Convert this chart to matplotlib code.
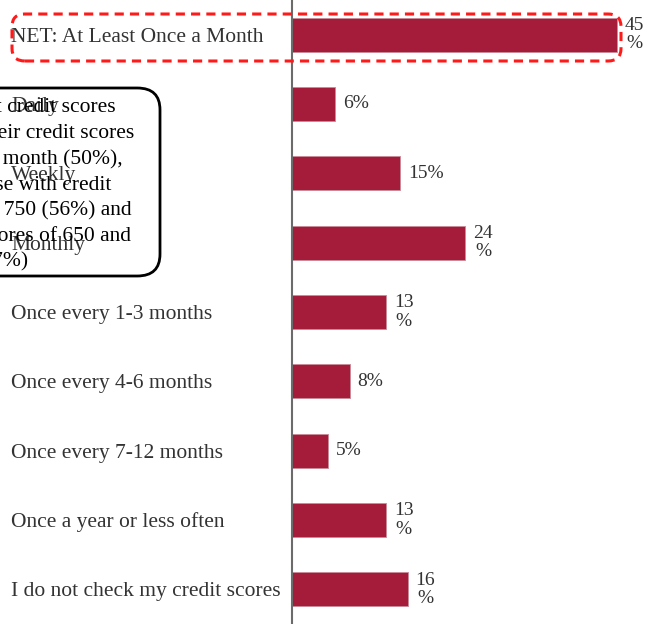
import matplotlib.pyplot as plt
from matplotlib.patches import FancyBboxPatch

# frequency of checking credit scores
categories = [
    "NET: At Least Once a Month",
    "Daily",
    "Weekly",
    "Monthly",
    "Once every 1-3 months",
    "Once every 4-6 months",
    "Once every 7-12 months",
    "Once a year or less often",
    "I do not check my credit scores",
]
shares = [45, 6, 15, 24, 13, 8, 5, 13, 16]
# labels that wrap the % sign onto a second line
wrapped = [True, False, False, True, True, False, False, True, True]

callout_lines = [
    "Consumers with excellent credit scores",
    "are more likely to check their credit scores",
    "at least once a month (50%),",
    "compared to those with credit",
    "scores of 650 to 750 (56%) and",
    "those with scores of 650 and",
    "below (47%)",
]

bar_color = "#a51c3a"
text_color = "#333333"
plt.rcParams["font.family"] = ["Liberation Serif", "DejaVu Serif"]

fig = plt.figure(figsize=(6.48, 6.24), dpi=100)
ax = fig.add_axes([292 / 648, 0, 1 - 292 / 648, 1])

ypos = list(range(len(categories)))
ax.barh(ypos, shares, height=0.49, color=bar_color,
        edgecolor="#c98a98", linewidth=0.6)
ax.set_xlim(0, 49.3)
ax.set_ylim(8.5, -0.5)

for y, v, w in zip(ypos, shares, wrapped):
    lab = f"{v}\n%" if w else f"{v}%"
    ax.text(v + 1.1, y, lab, ha="left", va="center", fontsize=14,
            color=text_color, linespacing=1.1, multialignment="center")

ax.set_xticks([])
ax.set_yticks(ypos)
ax.set_yticklabels(categories, fontsize=15.5, color=text_color, ha="left")
ax.tick_params(axis="y", length=0, pad=281 * 0.72)
for side in ["top", "right", "bottom"]:
    ax.spines[side].set_visible(False)
ax.spines["left"].set_color("#6b6b6b")
ax.spines["left"].set_linewidth(1.5)

# dashed highlight around the NET row
x0, y0 = 12 / 648, 1 - 61 / 624
x1, y1 = 621 / 648, 1 - 14 / 624
net_box = FancyBboxPatch((x0, y0), x1 - x0, y1 - y0,
                         boxstyle="round,pad=0,rounding_size=0.02",
                         transform=fig.transFigure, fill=False,
                         edgecolor="#ff1a1a", linewidth=2.2,
                         linestyle=(0, (3, 2)), zorder=5)
fig.add_artist(net_box)

# callout box, running off the left edge
cb = FancyBboxPatch((-140 / 648, 1 - 276 / 624), 300 / 648, 188 / 624,
                    boxstyle="round,pad=0,rounding_size=0.035",
                    transform=fig.transFigure, fill=False,
                    edgecolor="black", linewidth=2, zorder=6)
fig.add_artist(cb)
right_ends = [116, 134, 123, 111, 132, 131, 28]
for i, (line, xr) in enumerate(zip(callout_lines, right_ends)):
    fig.text(xr / 648, 1 - (108 + 25.7 * i) / 624, line, ha="right",
             va="center", fontsize=15.5, color="black", zorder=7)

fig.savefig("out.png", dpi=100)
